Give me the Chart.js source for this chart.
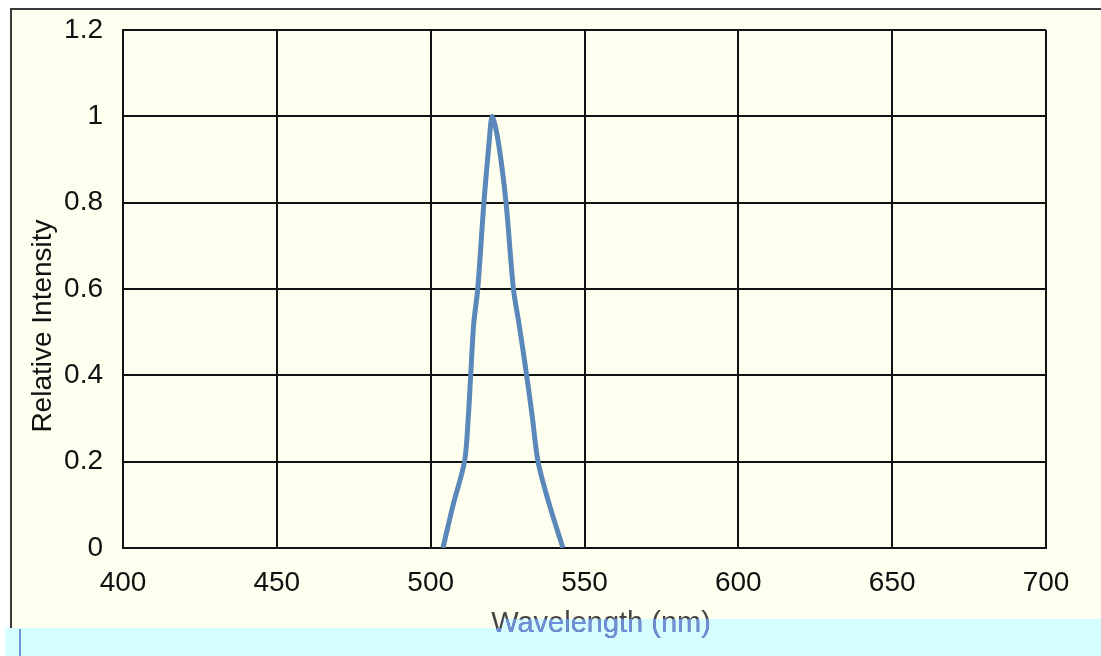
<!DOCTYPE html>
<html>
<head>
<meta charset="utf-8">
<script src="https://cdn.jsdelivr.net/npm/chart.js@4"></script>
<style>
    body { margin: 0; background: #fff; width: 1101px; height: 656px; overflow: hidden; position: relative; }
    .frame { position: absolute; left: 10px; top: 8px; right: 0; bottom: 0; background: #fffff0;
             border-left: 2px solid #3a3a3a; border-top: 2px solid #3a3a3a; }
    .strip { position: absolute; background: #d5feff; }
    .strip-left { left: 5px; top: 628px; width: 500px; bottom: 0; }
    .strip-right { left: 503px; top: 619px; right: 0; bottom: 0; }
    .strip-mark { position: absolute; left: 19px; top: 629px; width: 2px; bottom: 0; background: #6f97d8; }
    .chart-box { position: absolute; left: 0; top: 0; width: 1101px; height: 656px; }
</style>
</head>
<body>
<div class="frame"></div>
<div class="strip strip-left"></div>
<div class="strip strip-right"></div>
<div class="strip-mark"></div>
<div class="chart-box"><canvas id="spectrum"></canvas></div>

<script>
// spectrum
const wavelength = [504, 507.3, 511, 512.2, 513, 514, 515.3, 517.3, 519, 520, 522, 524.5, 526.9, 528.7, 531.2, 533.1, 534.9, 538.6, 543];
const intensity  = [0, 0.1, 0.2, 0.3, 0.4, 0.52, 0.6, 0.8, 0.94, 1.0, 0.94, 0.8, 0.6, 0.52, 0.4, 0.3, 0.2, 0.1, 0];

const xTicks = [400, 450, 500, 550, 600, 650, 700];
const yTicks = [0, 0.2, 0.4, 0.6, 0.8, 1, 1.2];

const xTitle = 'Wavelength (nm)';
const yTitle = 'Relative Intensity';

const tickFont = { family: '"Liberation Sans", Arial, sans-serif', size: 28 };

////
///////////////////// Axis titles /////////////////////
////

// Excel puts the titles a little off-centre, so they are drawn by hand
const axisTitles = {
    id: 'axisTitles',
    afterDraw(chart) {
        const ctx = chart.ctx;
        ctx.save();
        ctx.textAlign = 'center';
        ctx.textBaseline = 'alphabetic';

        ctx.save();
        ctx.font = '28px "Liberation Sans", Arial, sans-serif';
        ctx.fillStyle = '#111';
        ctx.translate(51, 326);
        ctx.rotate(-Math.PI / 2);
        ctx.fillText(yTitle, 0, 0);
        ctx.restore();

        // upper part grey, the part under the cyan strip blue
        ctx.font = '29px "Liberation Sans", Arial, sans-serif';
        ctx.fillStyle = '#444';
        ctx.fillText(xTitle, 601, 632);
        ctx.beginPath();
        ctx.rect(5, 628, 500, 40);
        ctx.rect(503, 619, 600, 50);
        ctx.clip();
        ctx.fillStyle = '#6d8fdc';
        ctx.fillText(xTitle, 601, 632);
        ctx.restore();
    }
};

////
///////////////////// Chart /////////////////////
////

const points = wavelength.map((w, i) => ({ x: w, y: intensity[i] }));

const spectrumData = {
    datasets: [{
        data: points,
        borderColor: '#5b88ba',
        borderWidth: 5,
        pointRadius: 0,
        fill: false,
        tension: 0.3
    }]
};

const spectrumOptions = {
    responsive: true,
    maintainAspectRatio: false,
    animation: false,
    layout: {
        padding: { top: 30, right: 55, left: 0, bottom: 0 }
    },
    scales: {
        x: {
            type: 'linear',
            min: 400,
            max: 700,
            afterFit: scale => { scale.height = 108; },
            afterBuildTicks: scale => { scale.ticks = xTicks.map(v => ({ value: v })); },
            ticks: { color: '#111', font: tickFont, padding: 18, maxRotation: 0 },
            grid: { color: '#111', lineWidth: 2, drawTicks: false },
            border: { color: '#111', width: 2 }
        },
        y: {
            min: 0,
            max: 1.2,
            afterFit: scale => {
                scale.width = 123;
                // keep the label padding from pushing the plot down
                scale.paddingTop = 0;
                scale.paddingBottom = 0;
            },
            afterBuildTicks: scale => { scale.ticks = yTicks.map(v => ({ value: v })); },
            ticks: { color: '#111', font: tickFont, padding: 20, callback: v => String(v) },
            grid: { color: '#111', lineWidth: 2, drawTicks: false },
            border: { color: '#111', width: 2 }
        }
    },
    plugins: {
        legend: { display: false },
        tooltip: { enabled: false }
    }
};

let spectrumChart = new Chart(document.getElementById('spectrum'), {
    type: 'line',
    data: spectrumData,
    options: spectrumOptions,
    plugins: [axisTitles]
});
</script>
</body>
</html>
